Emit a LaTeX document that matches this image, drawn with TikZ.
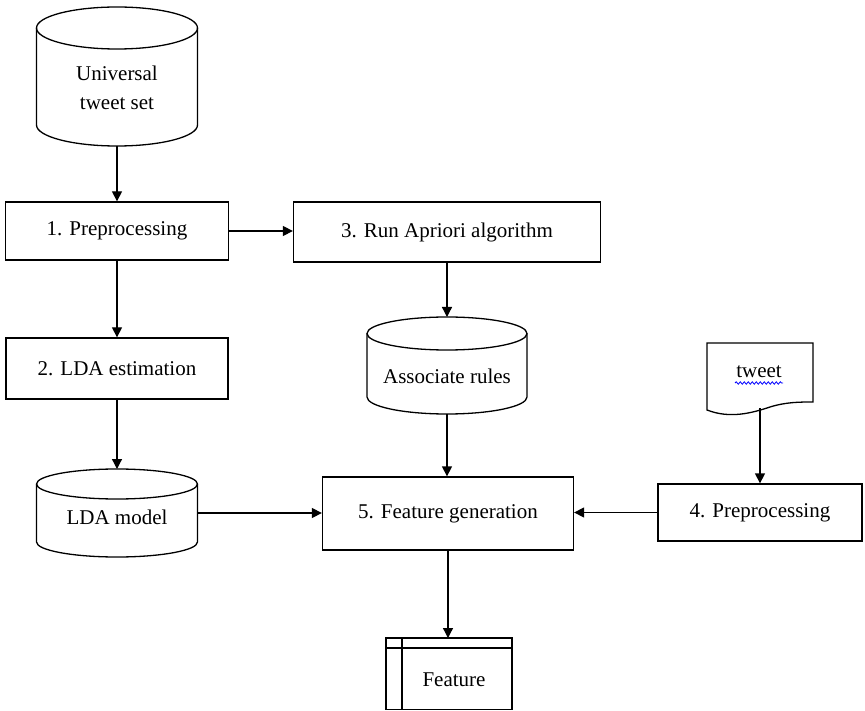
\documentclass[tikz,border=0pt]{standalone}
\usepackage{fontspec}
\setmainfont{Liberation Serif}
\usetikzlibrary{arrows.meta,decorations.pathmorphing}
\tikzset{
  ln/.style={line width=1.3pt},
  box/.style={draw, line width=1.3pt, rectangle, inner sep=0pt},
  hid/.style={inner sep=0pt, outer sep=0pt},
  txt/.style={inner sep=0pt, align=center},
  arr/.style={line width=1.3pt, -{Triangle[length=10pt,width=10pt]}},
}
\begin{document}
\begin{tikzpicture}[x=1pt,y=-1pt,font=\fontsize{21}{29}\selectfont]
\useasboundingbox (0,0) rectangle (865,711);

% Universal tweet set cylinder
\node[hid, minimum width=161pt, minimum height=139pt] (ucyl) at (117,76.5) {};
\draw[ln] (117,28) ellipse [x radius=80.5, y radius=21];
\draw[ln] (36.5,28) -- (36.5,125) arc[start angle=180, end angle=0, x radius=80.5, y radius=21] -- (197.5,28);
\node[txt] (utxt) at (117,88) {Universal\\tweet set};

% boxes
\node[box, minimum width=223pt, minimum height=58pt] (b1) at (117,231) {1. Preprocessing};
\node[box, minimum width=307pt, minimum height=60pt] (b3) at (447,232) {3. Run Apriori algorithm};
\node[box, minimum width=222pt, minimum height=61pt] (b2) at (117,368.5) {2. LDA estimation};
\node[box, minimum width=251pt, minimum height=73pt] (b5) at (448,513.5) {5. Feature generation};
\node[box, minimum width=204pt, minimum height=57pt] (b4) at (760,512.5) {4. Preprocessing};

% Associate rules cylinder
\node[hid, minimum width=160pt, minimum height=97pt] (acyl) at (447,365.5) {};
\draw[ln] (447,333.5) ellipse [x radius=80, y radius=16.5];
\draw[ln] (367,333.5) -- (367,397) arc[start angle=180, end angle=0, x radius=80, y radius=17] -- (527,333.5);
\node[txt] (atxt) at (447,376) {Associate rules};

% LDA model cylinder
\node[hid, minimum width=161pt, minimum height=88pt] (lcyl) at (117,513) {};
\draw[ln] (117,484) ellipse [x radius=80.5, y radius=15];
\draw[ln] (36.5,484) -- (36.5,542) arc[start angle=180, end angle=0, x radius=80.5, y radius=15] -- (197.5,484);
\node[txt] (ltxt) at (117,517) {LDA model};

% tweet document
\node[hid, minimum width=106pt, minimum height=72pt] (doc) at (760,379) {};
\draw[ln] (707,343) -- (707,410) .. controls (730,419) and (752,413) .. (770,407)
  .. controls (786,402) and (800,402) .. (813,402) -- (813,343) -- cycle;
\node[txt] (dtxt) at (759,372) {tweet};
\draw[blue, line width=0.8pt, decorate, decoration={snake, amplitude=1.2pt, segment length=4pt}] (735,383) -- (783,383);
\coordinate (docbot) at (760,408);

% Feature (internal storage)
\node[hid, minimum width=126pt, minimum height=71.5pt] (feat) at (449,673.75) {};
\draw[ln] (386,638) rectangle (512,709.5);
\draw[ln] (386,648) -- (512,648);
\draw[ln] (402,638) -- (402,709.5);
\node[txt] (ftxt) at (454,680) {Feature};

% connectors
\draw[arr] (ucyl.south) -- (ucyl.south |- b1.north);
\draw[arr] (b1.east) -- (b3.west |- b1.east);
\draw[arr] (b1.south) -- (b1.south |- b2.north);
\draw[arr] (b3.south) -- (b3.south |- acyl.north);
\draw[arr] (b2.south) -- (b2.south |- lcyl.north);
\draw[arr] (acyl.south) -- (acyl.south |- b5.north);
\draw[arr] (lcyl.east) -- (b5.west |- lcyl.east);
\draw[arr] (docbot) -- (docbot |- b4.north);
\draw[arr] (b4.west) -- (b5.east |- b4.west);
\draw[arr] (b5.south) -- (b5.south |- feat.north);
\end{tikzpicture}
\end{document}
